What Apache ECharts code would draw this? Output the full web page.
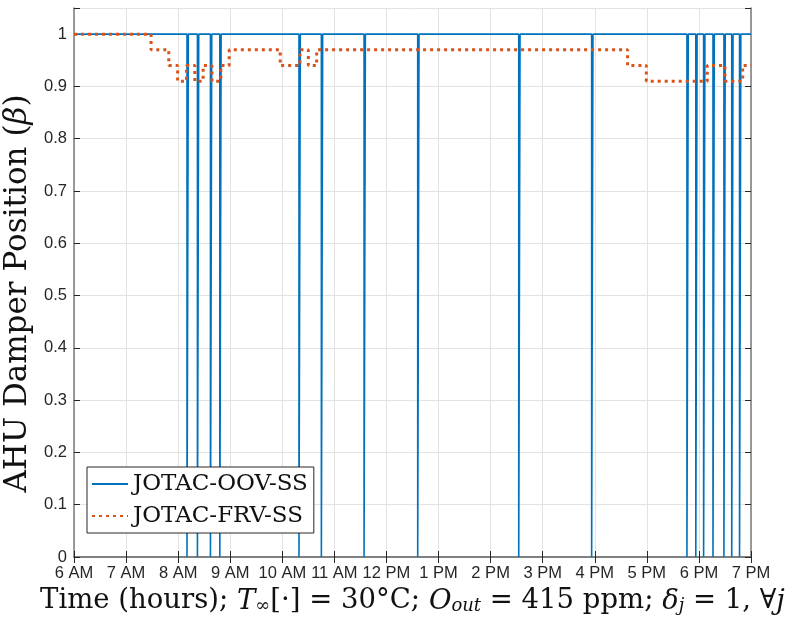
<!DOCTYPE html>
<html>
<head>
<meta charset="utf-8">
<script src="https://cdn.jsdelivr.net/npm/echarts@6/dist/echarts.min.js"></script>
<style>
  html, body { margin: 0; padding: 0; background: #fff; }
  #chart { width: 801px; height: 619px; }
</style>
</head>
<body>
<div id="chart"></div>
<script>
// hours of day (6 = 6 AM, 19 = 7 PM)
var xTicks = [6, 7, 8, 9, 10, 11, 12, 13, 14, 15, 16, 17, 18, 19];
// JOTAC-OOV-SS: damper sits at 1 and drops to 0 at these times
var oovDropTimes = [8.17, 8.37, 8.62, 8.80, 10.32, 10.75, 11.57, 12.60, 14.54, 15.94,
                    17.77, 17.94, 18.09, 18.27, 18.48, 18.63, 18.78];
var oovDropWidth = 0.025;
// JOTAC-FRV-SS: step changes (time, new level)
var frvTimes  = [6, 7.48, 7.82, 7.99, 8.16, 8.32, 8.48, 8.65, 8.82, 8.98, 9.96, 10.34, 10.50, 10.66, 16.63, 16.99, 18.16, 18.50, 18.84, 19];
var frvLevels = [1, 0.97, 0.94, 0.91, 0.94, 0.91, 0.94, 0.91, 0.94, 0.97, 0.94, 0.97, 0.94, 0.97, 0.94, 0.91, 0.94, 0.91, 0.94, 0.94];

var oovData = [[6, 1]];
oovDropTimes.forEach(function (t) {
  oovData.push([t, 1], [t, 0], [t + oovDropWidth, 0], [t + oovDropWidth, 1]);
});
oovData.push([19, 1]);

var frvData = frvTimes.map(function (t, i) { return [t, frvLevels[i]]; });

function hourLabel(h) {
  if (h < 12) return h + ' AM';
  if (h === 12) return '12 PM';
  return (h - 12) + ' PM';
}

var axisColor = '#7a7a7a';
var tickColor = '#262626';
var serif = 'DejaVu Serif';

var chart = echarts.init(document.getElementById('chart'));
chart.setOption({
  animation: false,
  grid: { left: 74, right: 50, top: 8, bottom: 62, outerBoundsMode: 'none', containLabel: false },
  legend: {
    orient: 'vertical',
    left: 87, top: 467,
    backgroundColor: '#fff',
    borderColor: '#262626',
    borderWidth: 1,
    borderRadius: 0,
    padding: [5, 6, 5, 4],
    itemWidth: 36,
    itemHeight: 14,
    itemGap: 8,
    itemStyle: { opacity: 0 },
    textStyle: { fontFamily: serif, fontSize: 23, color: '#111', lineHeight: 24 },
    data: ['JOTAC-OOV-SS', 'JOTAC-FRV-SS']
  },
  xAxis: [{
    type: 'value', min: 6, max: 19, interval: 1,
    axisLine: { lineStyle: { color: axisColor, width: 1.5 } },
    axisTick: { inside: true, length: 6, lineStyle: { color: tickColor } },
    axisLabel: {
      formatter: hourLabel, margin: 8,
      fontFamily: 'Liberation Sans', fontSize: 16.5, color: '#262626'
    },
    splitLine: { show: true, lineStyle: { color: '#e3e3e3', width: 1 } },
    name: '{r|Time (hours); }{i|T}{s|∞}{r|[·] = 30°C; }{i|O}{s|out}{r| = 415 ppm; }{i|δ}{s|j}{r| = 1, ∀}{i|j}',
    nameLocation: 'middle',
    nameGap: 27,
    nameTextStyle: {
      rich: {
        r: { fontFamily: serif, fontSize: 27.5, color: '#111', lineHeight: 30, verticalAlign: 'bottom' },
        i: { fontFamily: serif, fontSize: 27.5, fontStyle: 'italic', color: '#111', lineHeight: 30, verticalAlign: 'bottom' },
        s: { fontFamily: serif, fontSize: 18, fontStyle: 'italic', color: '#111', lineHeight: 24, verticalAlign: 'bottom' }
      }
    }
  }, {
    type: 'value', min: 6, max: 19, interval: 1, position: 'top',
    axisLine: { lineStyle: { color: axisColor, width: 1.5 } },
    axisTick: { inside: true, length: 6, lineStyle: { color: tickColor } },
    axisLabel: { show: false },
    splitLine: { show: false }
  }],
  yAxis: [{
    type: 'value', min: 0, max: 1.05, interval: 0.1,
    axisLine: { show: true, lineStyle: { color: axisColor, width: 1.5 } },
    axisTick: { show: true, inside: true, length: 6, lineStyle: { color: tickColor } },
    axisLabel: {
      margin: 7,
      fontFamily: 'Liberation Sans', fontSize: 16.5, color: '#262626',
      formatter: function (v) { return v > 1.001 ? '' : String(Math.round(v * 10) / 10); }
    },
    splitLine: { show: true, lineStyle: { color: '#e3e3e3', width: 1 } },
    name: '{r|AHU Damper Position (}{i|β}{r|)}',
    nameLocation: 'middle',
    nameGap: 37,
    nameTextStyle: {
      padding: [0, 22, 0, 0],
      rich: {
        r: { fontFamily: serif, fontSize: 31, color: '#111' },
        i: { fontFamily: serif, fontSize: 31, fontStyle: 'italic', color: '#111' }
      }
    }
  }, {
    type: 'value', min: 0, max: 1.05, interval: 0.1, position: 'right',
    axisLine: { show: true, lineStyle: { color: axisColor, width: 1.5 } },
    axisTick: { show: true, inside: true, length: 6, lineStyle: { color: tickColor } },
    axisLabel: { show: false },
    splitLine: { show: false }
  }],
  series: [{
    name: 'JOTAC-OOV-SS',
    type: 'line',
    data: oovData,
    showSymbol: false,
    symbol: 'none',
    lineStyle: { color: '#0072BD', width: 1.6 },
    itemStyle: { color: '#0072BD' },
    z: 3
  }, {
    name: 'JOTAC-FRV-SS',
    type: 'line',
    step: 'end',
    data: frvData,
    showSymbol: false,
    symbol: 'none',
    lineStyle: { color: '#D95319', width: 3, type: [3, 4] },
    itemStyle: { color: '#D95319' },
    z: 4
  }]
});
</script>
</body>
</html>
